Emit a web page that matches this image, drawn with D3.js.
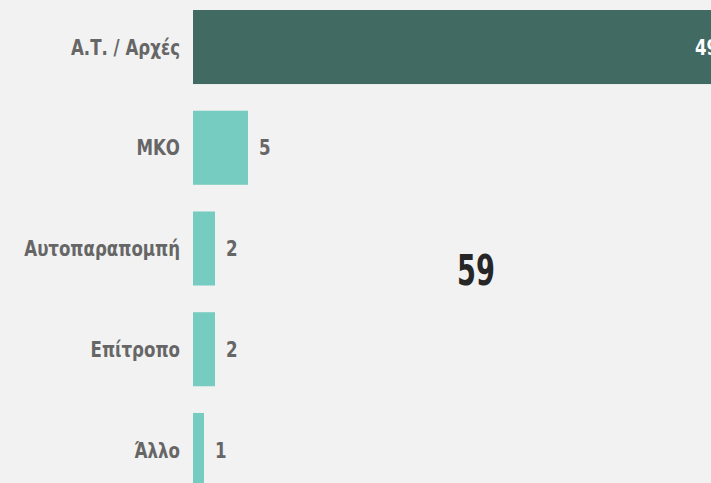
<!DOCTYPE html>
<html>
<head>
<meta charset="utf-8">
<style>
  html, body { margin: 0; padding: 0; background: #f2f2f2; }
  svg { display: block; }
  text { font-family: "DejaVu Sans Condensed", "DejaVu Sans", sans-serif; font-weight: bold; }
</style>
</head>
<body>
<div id="chart"></div>
<script src="https://cdn.jsdelivr.net/npm/d3@7"></script>
<script>
const width = 711;
const height = 483;

// data
const categories = ["Α.Τ. / Αρχές", "ΜΚΟ", "Αυτοπαραπομπή", "Επίτροπο", "Άλλο"];
const values = [49, 5, 2, 2, 1];
const highlight = [true, false, false, false, false];

const data = categories.map((c, i) => ({ cat: c, value: values[i], hi: highlight[i] }));
const total = d3.sum(values);

const svg = d3.select("#chart")
    .append("svg")
    .attr("width", width)
    .attr("height", height);

svg.append("rect")
    .attr("width", width)
    .attr("height", height)
    .attr("fill", "#f2f2f2");

// scales
const x = d3.scaleLinear()
    .domain([0, 49])
    .range([193, 732]);

const y = d3.scaleBand()
    .domain(categories)
    .range([10, 487])
    .paddingInner(0.265)
    .paddingOuter(0);

// the source font is narrow, squeeze the text horizontally
const squeeze = 0.88;

// bars
svg.selectAll("rect.bar")
    .data(data)
    .join("rect")
    .attr("class", "bar")
    .attr("x", x(0))
    .attr("y", d => y(d.cat))
    .attr("width", d => x(d.value) - x(0))
    .attr("height", y.bandwidth())
    .attr("fill", d => d.hi ? "#406a62" : "#76ccc0");

// category labels
svg.selectAll("text.cat")
    .data(data)
    .join("text")
    .attr("class", "cat")
    .attr("transform", d => `translate(${x(0) - 13},${y(d.cat) + y.bandwidth() / 2}) scale(${squeeze},1)`)
    .attr("dy", "0.36em")
    .attr("text-anchor", "end")
    .attr("fill", "#666666")
    .attr("font-size", 21)
    .text(d => d.cat);

// value labels (inside the bar for the big one, it runs off the right edge)
svg.selectAll("text.val")
    .data(data)
    .join("text")
    .attr("class", "val")
    .attr("transform", d => `translate(${d.hi ? x(d.value) - 14 : x(d.value) + 11},${y(d.cat) + y.bandwidth() / 2}) scale(${squeeze},1)`)
    .attr("dy", "0.36em")
    .attr("text-anchor", d => d.hi ? "end" : "start")
    .attr("fill", d => d.hi ? "#ffffff" : "#666666")
    .attr("font-size", 21)
    .text(d => d.value);

// total
svg.append("text")
    .attr("transform", "translate(476,285) scale(0.72,1)")
    .attr("text-anchor", "middle")
    .attr("fill", "#262626")
    .attr("font-size", 42)
    .text(total);
</script>
</body>
</html>
